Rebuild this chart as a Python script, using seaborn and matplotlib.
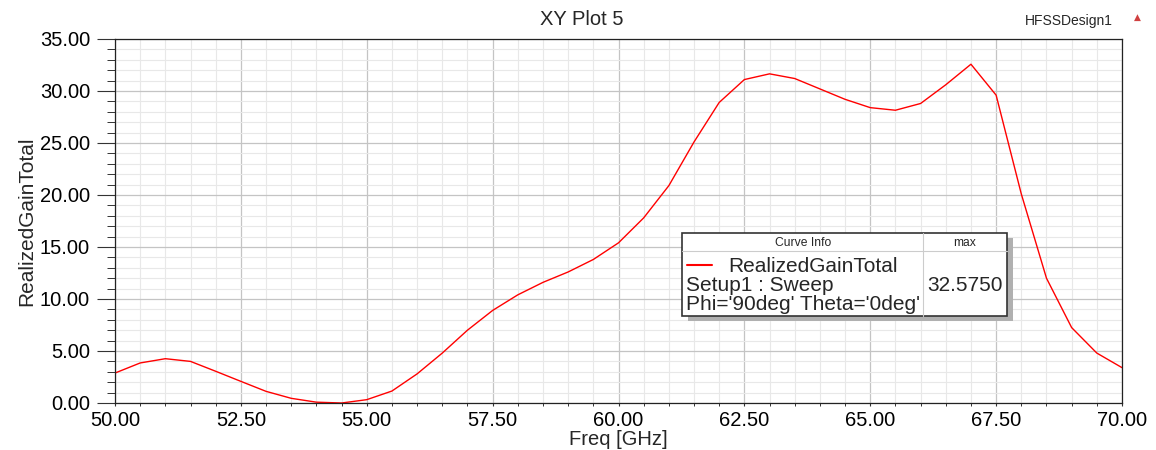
import numpy as np
import matplotlib
matplotlib.use('Agg')
import matplotlib.pyplot as plt
from matplotlib.patches import Rectangle
from matplotlib.lines import Line2D
from matplotlib.ticker import MultipleLocator, FormatStrFormatter
import seaborn as sns
import pandas as pd

# frequency sweep (GHz) and realized gain
freq = [50.0, 50.5, 51.0, 51.5, 52.0, 52.5, 53.0, 53.5, 54.0, 54.5,
        55.0, 55.5, 56.0, 56.5, 57.0, 57.5, 58.0, 58.5, 59.0, 59.5,
        60.0, 60.5, 61.0, 61.5, 62.0, 62.5, 63.0, 63.5, 64.0, 64.5,
        65.0, 65.5, 66.0, 66.5, 67.0, 67.5, 68.0, 68.5, 69.0, 69.5, 70.0]
gain = [2.88, 3.85, 4.26, 4.0, 3.05, 2.08, 1.12, 0.45, 0.08, 0.0,
        0.32, 1.15, 2.8, 4.8, 7.0, 8.9, 10.4, 11.6, 12.6, 13.8,
        15.4, 17.8, 20.9, 25.1, 28.9, 31.1, 31.65, 31.2, 30.2, 29.2,
        28.4, 28.15, 28.8, 30.6, 32.575, 29.6, 20.1, 12.0, 7.25, 4.8, 3.4]
x_ticks = [50.0, 52.5, 55.0, 57.5, 60.0, 62.5, 65.0, 67.5, 70.0]
y_ticks = [0, 5, 10, 15, 20, 25, 30, 35]

df = pd.DataFrame({'Freq': freq, 'Gain': gain})

sns.set_style('white')
plt.rcParams['font.family'] = ['Liberation Sans', 'DejaVu Sans']

W, H = 1156, 450
fig = plt.figure(figsize=(W / 100, H / 100), dpi=100)
ax = fig.add_axes([115 / W, 1 - 403 / H, (1122 - 115) / W, (403 - 39) / H])

sns.lineplot(data=df, x='Freq', y='Gain', color='red', linewidth=1.0, ax=ax)

ax.set_xlim(50, 70)
ax.set_ylim(0, 35)
ax.set_xticks(x_ticks)
ax.set_yticks(y_ticks)
ax.xaxis.set_minor_locator(MultipleLocator(0.5))
ax.yaxis.set_minor_locator(MultipleLocator(1.0))
ax.xaxis.set_major_formatter(FormatStrFormatter('%.2f'))
ax.yaxis.set_major_formatter(FormatStrFormatter('%.2f'))
ax.grid(which='major', color='#c4c4c4', linewidth=0.9)
ax.grid(which='minor', color='#e8e8e8', linewidth=0.8)
ax.set_axisbelow(True)
ax.tick_params(axis='y', which='major', direction='out', length=13, width=0.8, color='#333333',
               labelsize=14.5, labelcolor='black', pad=5)
ax.tick_params(axis='y', which='minor', direction='out', length=5.8, width=0.7, color='#333333')
ax.tick_params(axis='x', which='major', direction='out', length=2.5, width=0.8, color='#333333',
               labelsize=14.5, labelcolor='black', pad=3)
ax.tick_params(axis='x', which='minor', direction='out', length=2.5, width=0.7, color='#333333')
ax.tick_params(axis='x', which='both', bottom=True)
ax.tick_params(axis='y', which='both', left=True)
for s in ax.spines.values():
    s.set_color('#222222')
    s.set_linewidth(0.9)

ax.set_xlabel('Freq [GHz]', fontsize=14.5)
ax.set_ylabel('RealizedGainTotal', fontsize=15)
ax.xaxis.set_label_coords(0.5, (403 - 430) / 364)
ax.yaxis.set_label_coords((36 - 115) / 1007, 0.5)

def fpx(x, y):
    return x / W, 1 - y / H

# title and design name
fig.text(*fpx(582, 25), 'XY Plot 5', ha='center', va='baseline', fontsize=14.5)
fig.text(*fpx(1113, 25), 'HFSSDesign1', ha='right', va='baseline', fontsize=10)
fig.text(*fpx(1137, 17), '\u25B2', ha='center', va='center', fontsize=6.5, color='#d04040',
         family='DejaVu Sans')

# curve info box
box_l, box_r, box_t, box_b = 682, 1007, 233, 316
shadow = Rectangle(fpx(box_l + 6, box_b + 5), (box_r - box_l) / W, (box_b - box_t) / H,
                   transform=fig.transFigure, facecolor='#b0b0b0', edgecolor='none', zorder=5)
fig.patches.append(shadow)
box = Rectangle(fpx(box_l, box_b), (box_r - box_l) / W, (box_b - box_t) / H,
                transform=fig.transFigure, facecolor='white', edgecolor='#333333',
                linewidth=1.2, zorder=6)
fig.patches.append(box)
fig.lines.append(Line2D([box_l / W, box_r / W], [1 - 251 / H] * 2, transform=fig.transFigure,
                        color='#cccccc', linewidth=0.8, zorder=7))
fig.lines.append(Line2D([923 / W] * 2, [1 - box_t / H, 1 - box_b / H], transform=fig.transFigure,
                        color='#cccccc', linewidth=0.8, zorder=7))
fig.lines.append(Line2D([687 / W, 712 / W], [1 - 265 / H] * 2, transform=fig.transFigure,
                        color='red', linewidth=1.5, zorder=7))
fig.text(*fpx(803, 246.5), 'Curve Info', ha='center', va='baseline', fontsize=8.75, zorder=8)
fig.text(*fpx(965, 246.5), 'max', ha='center', va='baseline', fontsize=8.75, zorder=8)
fig.text(*fpx(728, 272), 'RealizedGainTotal', ha='left', va='baseline', fontsize=15, zorder=8)
fig.text(*fpx(686, 291), 'Setup1 : Sweep', ha='left', va='baseline', fontsize=15, zorder=8)
fig.text(*fpx(686, 310), "Phi='90deg' Theta='0deg'", ha='left', va='baseline', fontsize=15, zorder=8)
fig.text(*fpx(965, 291), '%.4f' % max(gain), ha='center', va='baseline', fontsize=15, zorder=8)

fig.savefig('out.png', dpi=100, facecolor='white')
